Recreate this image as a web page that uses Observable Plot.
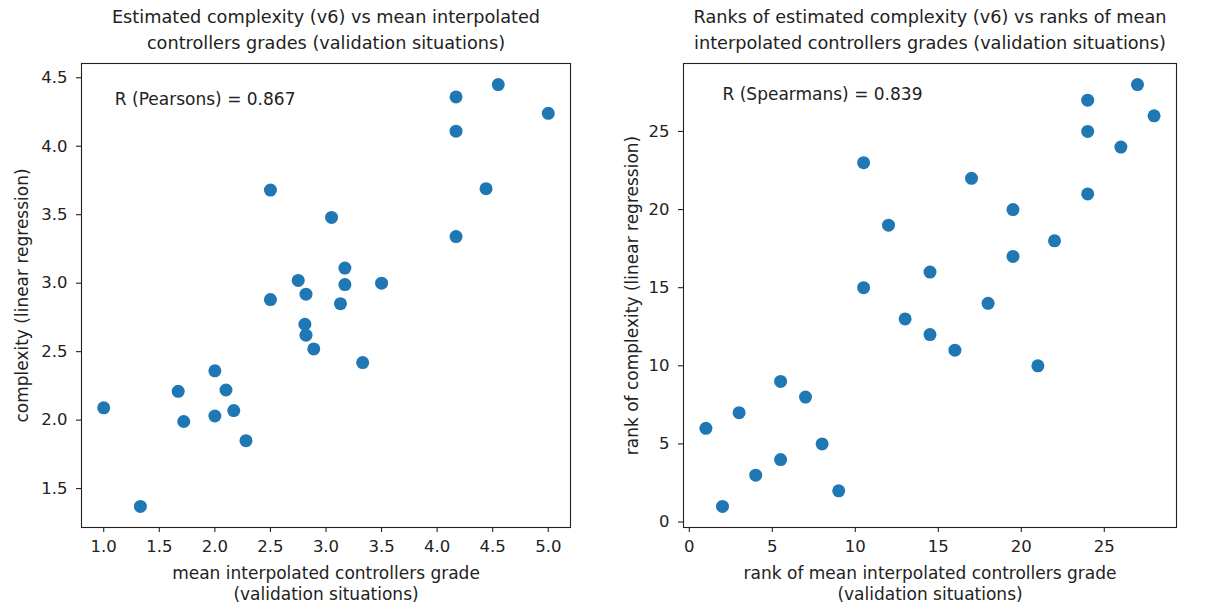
<!DOCTYPE html>
<html>
<head>
<meta charset="utf-8">
<script src="https://cdn.jsdelivr.net/npm/d3@7"></script>
<script src="https://cdn.jsdelivr.net/npm/@observablehq/plot@0.6"></script>
<style>
  html, body { margin: 0; padding: 0; background: #fff; }
  #wrap { position: relative; width: 1220px; height: 606px; overflow: hidden; }
  #left, #right { position: absolute; top: 0; }
  #left { left: 0; }
  #right { left: 610px; }
</style>
</head>
<body>
<div id="wrap"><div id="left"></div><div id="right"></div></div>
<script>
// ---- data ----
const meanGrade = [1.0, 1.33, 1.67, 1.72, 2.0, 2.0, 2.1, 2.17, 2.28, 2.5, 2.5, 2.75, 2.81, 2.82, 2.82, 2.89, 3.05, 3.13, 3.17, 3.17, 3.33, 3.5, 4.17, 4.17, 4.17, 4.44, 4.55, 5.0];
const complexity = [2.09, 1.37, 2.21, 1.99, 2.36, 2.03, 2.22, 2.07, 1.85, 3.68, 2.88, 3.02, 2.70, 2.92, 2.62, 2.52, 3.48, 2.85, 3.11, 2.99, 2.42, 3.00, 4.36, 4.11, 3.34, 3.69, 4.45, 4.24];
const rankGrade = [1, 2, 3, 4, 5.5, 5.5, 7, 8, 9, 10.5, 10.5, 12, 13, 14.5, 14.5, 16, 17, 18, 19.5, 19.5, 21, 22, 24, 24, 24, 26, 27, 28];
const rankComplexity = [6, 1, 7, 3, 9, 4, 8, 5, 2, 23, 15, 19, 13, 16, 12, 11, 22, 14, 20, 17, 10, 18, 27, 25, 21, 24, 28, 26];

const leftXTicks = [1.0, 1.5, 2.0, 2.5, 3.0, 3.5, 4.0, 4.5, 5.0];
const leftYTicks = [1.5, 2.0, 2.5, 3.0, 3.5, 4.0, 4.5];
const rightXTicks = [0, 5, 10, 15, 20, 25];
const rightYTicks = [0, 5, 10, 15, 20, 25];

const leftTitle = ["Estimated complexity (v6) vs mean interpolated", "controllers grades (validation situations)"];
const rightTitle = ["Ranks of estimated complexity (v6) vs ranks of mean", "interpolated controllers grades (validation situations)"];
const leftXLabel = ["mean interpolated controllers grade", "(validation situations)"];
const rightXLabel = ["rank of mean interpolated controllers grade", "(validation situations)"];
const leftYLabel = "complexity (linear regression)";
const rightYLabel = "rank of complexity (linear regression)";
const leftNote = {x: 1.1, y: 4.3, text: "R (Pearsons) = 0.867"};
const rightNote = {x: 2, y: 27, text: "R (Spearmans) = 0.839"};

// ---- helpers ----
const BLUE = "#1f77b4";
const INK = "#222222";
function padded(values) {
  const [a, b] = d3.extent(values);
  const m = (b - a) * 0.05;
  return [a - m, b + m];
}

function panel({xs, ys, xTicks, yTicks, xFmt, yFmt, title, xLabel, yLabel, note, marginLeft, marginRight, yLabelX}) {
  const data = xs.map((x, i) => ({x, y: ys[i]}));
  return Plot.plot({
    width: 610,
    height: 606,
    marginTop: 63,
    marginBottom: 79,
    marginLeft,
    marginRight,
    style: {fontFamily: "DejaVu Sans, sans-serif", fontSize: "16px", color: INK, background: "white"},
    x: {domain: padded(xs)},
    y: {domain: padded(ys)},
    marks: [
      Plot.frame({stroke: INK, strokeWidth: 1.1}),
      Plot.axisX({ticks: xTicks, tickFormat: xFmt, tickSize: 5, tickPadding: 8, label: null, fontSize: 16.5, stroke: INK, strokeWidth: 1.1}),
      Plot.axisY({ticks: yTicks, tickFormat: yFmt, tickSize: 5, tickPadding: 9, label: null, fontSize: 16.5, stroke: INK, strokeWidth: 1.1}),
      Plot.dot(data, {x: "x", y: "y", r: 6.5, fill: BLUE, stroke: "none"}),
      Plot.text([note.text], {x: note.x, y: note.y, textAnchor: "start", lineAnchor: "bottom", fontSize: 17, fill: INK}),
      Plot.text([title[0]], {frameAnchor: "top", dy: -46, lineAnchor: "middle", fontSize: 17.7, fill: INK}),
      Plot.text([title[1]], {frameAnchor: "top", dy: -20, lineAnchor: "middle", fontSize: 17.7, fill: INK}),
      Plot.text([xLabel[0]], {frameAnchor: "bottom", dy: 46, lineAnchor: "middle", fontSize: 17, fill: INK}),
      Plot.text([xLabel[1]], {frameAnchor: "bottom", dy: 67, lineAnchor: "middle", fontSize: 17, fill: INK}),
      Plot.text([yLabel], {frameAnchor: "left", dx: yLabelX - marginLeft, rotate: -90, lineAnchor: "middle", textAnchor: "middle", fontSize: 17, fill: INK})
    ]
  });
}

document.getElementById("left").appendChild(panel({
  xs: meanGrade, ys: complexity, xTicks: leftXTicks, yTicks: leftYTicks,
  xFmt: d => d.toFixed(1), yFmt: d => d.toFixed(1),
  title: leftTitle, xLabel: leftXLabel, yLabel: leftYLabel, note: leftNote,
  marginLeft: 81, marginRight: 40, yLabelX: 22
}));
document.getElementById("right").appendChild(panel({
  xs: rankGrade, ys: rankComplexity, xTicks: rightXTicks, yTicks: rightYTicks,
  xFmt: d => String(d), yFmt: d => String(d),
  title: rightTitle, xLabel: rightXLabel, yLabel: rightYLabel, note: rightNote,
  marginLeft: 73, marginRight: 44, yLabelX: 22
}));
</script>
</body>
</html>
